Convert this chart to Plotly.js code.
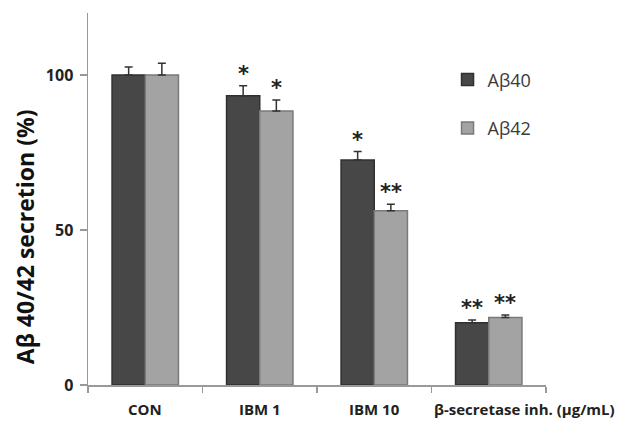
<!DOCTYPE html>
<html>
<head>
<meta charset="utf-8">
<script src="https://cdn.plot.ly/plotly-3.0.1.min.js"></script>
<style>html,body{margin:0;padding:0;background:#fff;}#chart{width:617px;height:421px;}</style>
</head>
<body>
<div id="chart"></div>
<script>
var categories = ['CON', 'IBM 1', 'IBM 10', 'β-secretase inh. (μg/mL)'];
var seriesNames = ['Aβ40', 'Aβ42'];
var ab40 = [100, 93.3, 72.6, 20.1];
var ab42 = [100, 88.4, 56.2, 21.8];
var ab40Err = [2.6, 3.2, 2.7, 0.9];
var ab42Err = [3.8, 3.5, 2.1, 0.8];
var ab40Sig = ['', '*', '*', '**'];
var ab42Sig = ['', '*', '**', '**'];
var yTicks = [0, 50, 100];
var yTitle = 'Aβ 40/42 secretion (%)';

var font = '"Open Sans", "Noto Sans", sans-serif';

function barTrace(name, vals, errs, fill, edge, group) {
  return {
    type: 'bar', name: name, x: categories, y: vals,
    legendgroup: group,
    marker: {color: fill, line: {color: edge, width: 1.5}},
    error_y: {type: 'data', array: errs, arrayminus: errs.map(function(){return 0;}),
              symmetric: false, color: '#333', thickness: 1.5, width: 4},
    hoverinfo: 'skip'
  };
}

var traces = [
  barTrace(seriesNames[0], ab40, ab40Err, '#474747', '#303030', 'g1'),
  barTrace(seriesNames[1], ab42, ab42Err, '#a3a3a3', '#7a7a7a', 'g2')
];

var annotations = [];
function addSig(sig, vals, errs, shift) {
  for (var i = 0; i < categories.length; i++) {
    if (!sig[i]) continue;
    annotations.push({
      x: i, y: vals[i] + errs[i], xref: 'x', yref: 'y',
      text: sig[i], showarrow: false,
      xshift: shift, yshift: -2, yanchor: 'bottom',
      font: {family: '"DejaVu Sans", sans-serif', size: 21, color: '#222', weight: 'bold'}
    });
  }
}
addSig(ab40Sig, ab40, ab40Err, -16.5);
addSig(ab42Sig, ab42, ab42Err, 16.5);

// category labels below the axis (last one sits right of its slot, as in the original)
categories.forEach(function(c, i) {
  annotations.push({
    x: i, y: 0, xref: 'x', yref: 'y', text: c, showarrow: false,
    yanchor: 'top', yshift: -12, xshift: i === categories.length - 1 ? 36 : 0,
    font: {family: font, size: 15, color: '#222', weight: 'bold'}
  });
});

// y-axis title (placed like the original, below the axis centre)
annotations.push({
  text: yTitle, xref: 'paper', yref: 'paper', x: -0.1376, y: 0.40,
  textangle: -90, showarrow: false, xanchor: 'center', yanchor: 'middle',
  font: {family: font, size: 23, color: '#111', weight: 'bold'}
});

var layout = {
  width: 617, height: 421,
  margin: {l: 88, r: 71, t: 13, b: 36},
  paper_bgcolor: '#fff', plot_bgcolor: '#fff',
  barmode: 'group', bargap: 0.42, bargroupgap: 0,
  showlegend: true,
  legend: {x: 0.785, y: 0.87, xanchor: 'left', yanchor: 'top',
           traceorder: 'grouped', tracegroupgap: 22,
           font: {family: font, size: 18, color: '#3a3a3a'}, bgcolor: 'rgba(0,0,0,0)'},
  xaxis: {
    type: 'category', range: [-0.5, categories.length - 0.5],
    showline: true, linecolor: '#999', linewidth: 1.5,
    ticks: 'outside', tickson: 'boundaries', ticklen: 6, tickcolor: '#999', tickwidth: 1.5,
    showticklabels: false,
    showgrid: false, zeroline: false, fixedrange: true
  },
  yaxis: {
    range: [0, 120], tickvals: yTicks, ticktext: yTicks.map(String),
    showline: true, linecolor: '#999', linewidth: 1.5,
    ticks: 'outside', ticklen: 7, tickcolor: '#999', tickwidth: 1.5,
    ticklabelstandoff: 3,
    tickfont: {family: font, size: 16, color: '#222', weight: 'bold'},
    showgrid: false, zeroline: false, fixedrange: true
  },
  annotations: annotations
};

Plotly.newPlot('chart', traces, layout, {displayModeBar: false, staticPlot: true});
</script>
</body>
</html>
